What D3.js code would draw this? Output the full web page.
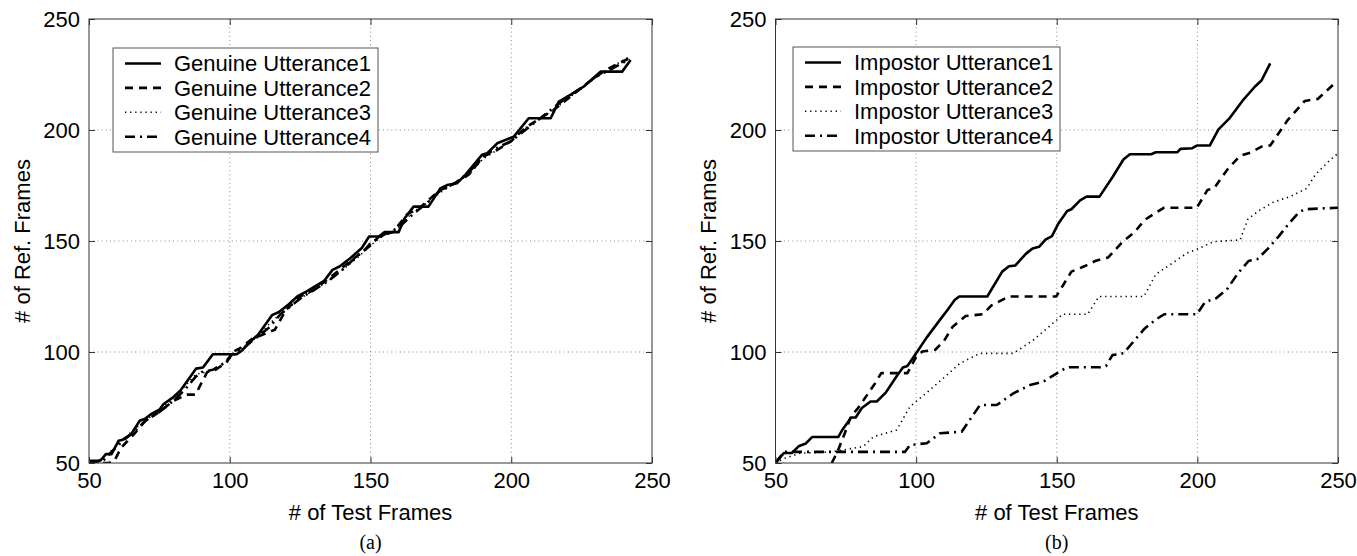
<!DOCTYPE html>
<html>
<head>
<meta charset="utf-8">
<script src="https://cdn.jsdelivr.net/npm/d3@7"></script>
<style>
  body { margin: 0; background: #fff; }
  text { font-family: "Liberation Sans", Arial, Helvetica, sans-serif; }
</style>
</head>
<body>
<svg id="chart" width="1357" height="556"></svg>
<script>
// axis ticks and labels
const tickValues = [50, 100, 150, 200, 250];
const xTitle = "# of Test Frames";
const yTitle = "# of Ref. Frames";

const genuineNames = ["Genuine Utterance1", "Genuine Utterance2", "Genuine Utterance3", "Genuine Utterance4"];
const impostorNames = ["Impostor Utterance1", "Impostor Utterance2", "Impostor Utterance3", "Impostor Utterance4"];

// (test frame, ref frame) warping paths
const genuine1 = [[50,51],[54,51],[56,54],[58,54],[60.5,60],[62,60.5],[65,63],[68,69],[70,70],[72,72],[75,74],[76.5,76.6],[80,79.7],[82.5,82.7],[88,92.5],[90.5,93],[94,99],[102.5,99],[104.5,100.8],[107.5,105],[110,107.7],[115,116.6],[117.5,118],[120.5,121],[124,125],[127.5,127.4],[133.5,132],[136.5,137],[139,138.5],[142.8,142.2],[147,147],[149.5,152],[153,152],[155,154],[160,154],[162,160],[165.3,165.5],[170.6,165.5],[174.8,173.7],[177.2,175.2],[180.7,176],[183.7,179.8],[189.6,188.8],[191.4,189.5],[195,194],[200.9,197],[206.2,205.3],[214,205.3],[216.9,212.8],[221,215.8],[225.8,219.6],[231.7,226.3],[239.4,226.3],[242.4,231.5]];
const genuine2 = [[50,50],[57,50],[59,51],[61.5,57],[63,59],[66,63],[70,69],[75,73],[80,78],[84.8,80.8],[87.8,80.8],[92,91],[95,92],[99,95.5],[101,100],[104,102],[108,106],[113,108.5],[116,110],[120,119],[125,125],[130,128],[135,133],[140,138],[145,143],[150,148],[153,152],[158,154],[163,162],[168,165.5],[172,170],[175,173],[180,176],[185,180],[190,188],[195,191],[200,195],[205,201],[210,205],[215,209],[220,214],[225,219],[230,224],[235,228],[243,233]];
const genuine3 = [[50,50],[55,52],[60,58],[65,64],[70,69],[75,74],[80,79],[85,86],[88,90],[92,91],[96,93],[100,97],[104,101],[108,105],[112,110],[116,115],[120,119],[125,124],[130,128],[135,132],[140,137],[145,142],[150,148],[155,153],[160,156],[165,163],[170,167],[175,172],[180,176],[185,180],[190,187],[195,191],[200,195],[205,201],[210,205],[215,209],[220,214],[225,219],[230,224],[235,228],[242,233]];
const genuine4 = [[50,50],[55,51],[58,55],[62,60],[66,64],[70,69],[75,73],[80,78],[84,83],[88,89],[90,91],[94,92],[98,95],[101,99],[105,102],[110,107],[114,111],[118,117],[122,121],[126,125],[130,128],[135,132],[140,137],[145,143],[148,146],[150,149],[155,153],[160,156],[165,162],[170,167],[175,173],[180,176],[185,181],[190,188],[195,192],[200,195],[205,200],[210,205],[215,210],[220,215],[225,219],[230,224],[235,227],[242,232]];

const impostor1 = [[50,50],[53,54.5],[55.8,54.5],[58.4,57.7],[60.8,58.8],[63,61.7],[72.3,61.7],[73.8,65],[76.9,70.5],[78.5,70.5],[80.7,74.8],[83.8,77.7],[86,77.7],[89.2,81.7],[93,89],[95.3,93],[96.9,93.7],[100,99.4],[103.8,106.6],[107.6,113],[111.4,119.4],[113.7,123.4],[115.3,125],[125.3,125],[130.6,136.2],[133,138.6],[135.3,139],[139,144.2],[141.4,146.6],[143.7,147.4],[146,150.6],[148.3,152.2],[150.6,157.9],[153.7,163.5],[155.2,164.3],[158.3,168.3],[160.6,170],[165.2,170],[169.8,178.7],[173.7,186.7],[176,189.1],[183.6,189.1],[185.2,190],[192.9,190],[194,191.5],[198.2,191.8],[199.8,193],[204.4,193],[207.5,200.3],[211.3,205.1],[216,213.1],[220.5,219.6],[222.8,222.3],[225.9,230]];
const impostor2 = [[70,50],[72,55],[74.6,63.3],[76.8,70.9],[79.2,74.5],[85.3,85.7],[87.6,90.5],[96.9,90.5],[100,97.8],[102.2,100.2],[106.8,101],[109.9,105],[113,111.4],[117.6,116.2],[123.7,117],[126.8,121],[133,125],[149.8,125],[155.2,136.2],[159.8,138.6],[163.7,141],[168.3,142.6],[173.7,150],[177.5,153.8],[181.3,159.5],[185.2,162.7],[188.2,165],[199.8,165],[203.6,173],[206,173.9],[210.5,181.9],[215.1,188.3],[219,189.9],[223.6,193],[225.9,193],[232,204.3],[238.2,213.1],[242.8,214],[249.7,222]];
const impostor3 = [[50,50],[53,52],[58.7,54.4],[70,55],[81.2,57.4],[84.8,61.8],[93.1,64.9],[97.8,75.4],[104.9,82.9],[110.9,89.6],[115.6,94.9],[122.7,99.4],[134.6,99.4],[141.7,105.4],[150,114.4],[152,117],[161,117],[165,125],[181,125],[185.2,135],[190.5,139.5],[196.2,144.5],[200.5,146.6],[205.7,149.7],[215.2,150.5],[218,160],[222.3,164],[227,167.5],[233,170],[238.9,173.7],[242,180],[247.2,186.5],[250,189.5]];
const impostor4 = [[50,50],[53,55],[96,55],[97.8,58.1],[103.8,58.9],[108.5,63.4],[116.2,64.1],[122.7,76.1],[128.7,76.1],[134.6,81.4],[140.5,85.1],[145.2,86.6],[150,90.4],[153.6,93.1],[165.4,93.1],[167.5,93.7],[169.8,98.6],[173.7,99.4],[177.5,105],[181.3,110.6],[185.2,114.6],[188.2,117],[199.8,117],[202.8,122.6],[206.7,124.2],[210.5,128.2],[214.4,135.4],[218.2,141],[221.3,141.8],[225.1,146.6],[229,152.2],[232,157],[235.9,162.7],[238.2,164.3],[250,165]];

// line styles for utterance 1..4 (solid, dashed, dotted, dash-dot)
const lineStyles = [
  { dash: null, width: 2.6 },
  { dash: "8,6", width: 2.6 },
  { dash: "1.3,3.8", width: 1.6 },
  { dash: "10,5,2,5", width: 2.6 }
];

const svg = d3.select("#chart");

function drawPanel(id, left, right, series, names, caption, legendPos) {
  const top = 19, bottom = 463;
  const x = d3.scaleLinear().domain([50, 250]).range([left, right]);
  const y = d3.scaleLinear().domain([50, 250]).range([bottom, top]);
  const g = svg.append("g");

  // dotted grid
  const grid = g.append("g").attr("stroke", "#8a8a8a").attr("stroke-width", 1)
    .attr("stroke-dasharray", "1,3.2");
  grid.selectAll(".gx").data(tickValues.slice(1, -1)).join("line")
    .attr("x1", d => x(d)).attr("x2", d => x(d)).attr("y1", top).attr("y2", bottom);
  grid.selectAll(".gy").data(tickValues.slice(1, -1)).join("line")
    .attr("y1", d => y(d)).attr("y2", d => y(d)).attr("x1", left).attr("x2", right);

  // clip the paths to the axes box
  g.append("clipPath").attr("id", "clip" + id)
    .append("rect").attr("x", left).attr("y", top)
    .attr("width", right - left).attr("height", bottom - top);

  const line = d3.line().x(d => x(d[0])).y(d => y(d[1]));
  g.append("g").attr("clip-path", `url(#clip${id})`)
    .selectAll("path").data(series).join("path")
    .attr("d", line)
    .attr("fill", "none")
    .attr("stroke", "#000")
    .attr("stroke-width", (d, i) => lineStyles[i].width)
    .attr("stroke-dasharray", (d, i) => lineStyles[i].dash)
    .attr("stroke-linejoin", "round");

  // axes, matlab style: inward ticks on all four sides
  const fmt = d3.format("d");
  const styleAxis = a => {
    a.select(".domain").remove();
    a.selectAll(".tick line").attr("stroke", "#333");
    a.selectAll("text").attr("font-size", 22).attr("fill", "#000")
      .style("font-family", '"Liberation Sans", Arial, sans-serif');
  };
  g.append("g").attr("transform", `translate(0,${bottom})`)
    .call(d3.axisBottom(x).tickValues(tickValues).tickFormat(fmt).tickSize(-6).tickPadding(9))
    .call(styleAxis);
  g.append("g").attr("transform", `translate(0,${top})`)
    .call(d3.axisTop(x).tickValues(tickValues).tickFormat("").tickSize(-6))
    .call(styleAxis);
  g.append("g").attr("transform", `translate(${left},0)`)
    .call(d3.axisLeft(y).tickValues(tickValues).tickFormat(fmt).tickSize(-6).tickPadding(9))
    .call(styleAxis);
  g.append("g").attr("transform", `translate(${right},0)`)
    .call(d3.axisRight(y).tickValues(tickValues).tickFormat("").tickSize(-6))
    .call(styleAxis);

  g.append("rect").attr("x", left).attr("y", top)
    .attr("width", right - left).attr("height", bottom - top)
    .attr("fill", "none").attr("stroke", "#333").attr("stroke-width", 1);

  // legend
  const lg = g.append("g").attr("transform", `translate(${legendPos[0]},${legendPos[1]})`);
  lg.append("rect").attr("width", legendPos[2]).attr("height", 104)
    .attr("fill", "#fff").attr("stroke", "#555").attr("stroke-width", 1);
  const rows = lg.selectAll(".row").data(names).join("g")
    .attr("transform", (d, i) => `translate(0,${15.5 + i * 24.4})`);
  rows.append("line").attr("x1", 12).attr("x2", 48)
    .attr("stroke", "#000")
    .attr("stroke-width", (d, i) => lineStyles[i].width)
    .attr("stroke-dasharray", (d, i) => lineStyles[i].dash);
  rows.append("text").attr("x", 61).attr("dy", "0.36em")
    .attr("font-size", 22).text(d => d);

  // titles
  const cx = (left + right) / 2;
  g.append("text").attr("x", cx).attr("y", 520).attr("text-anchor", "middle")
    .attr("font-size", 22).text(xTitle);
  g.append("text")
    .attr("transform", `translate(${left - 67},${(top + bottom) / 2}) rotate(-90)`)
    .attr("dy", "0.36em").attr("text-anchor", "middle")
    .attr("font-size", 22).text(yTitle);
  g.append("text").attr("x", cx).attr("y", 549).attr("text-anchor", "middle")
    .attr("font-size", 20).style("font-family", '"Liberation Serif", "Times New Roman", serif')
    .text(caption);
}

drawPanel("a", 89, 652, [genuine1, genuine2, genuine3, genuine4], genuineNames, "(a)", [113, 48, 265]);
drawPanel("b", 775.5, 1338, [impostor1, impostor2, impostor3, impostor4], impostorNames, "(b)", [793, 47, 267]);
</script>
</body>
</html>
